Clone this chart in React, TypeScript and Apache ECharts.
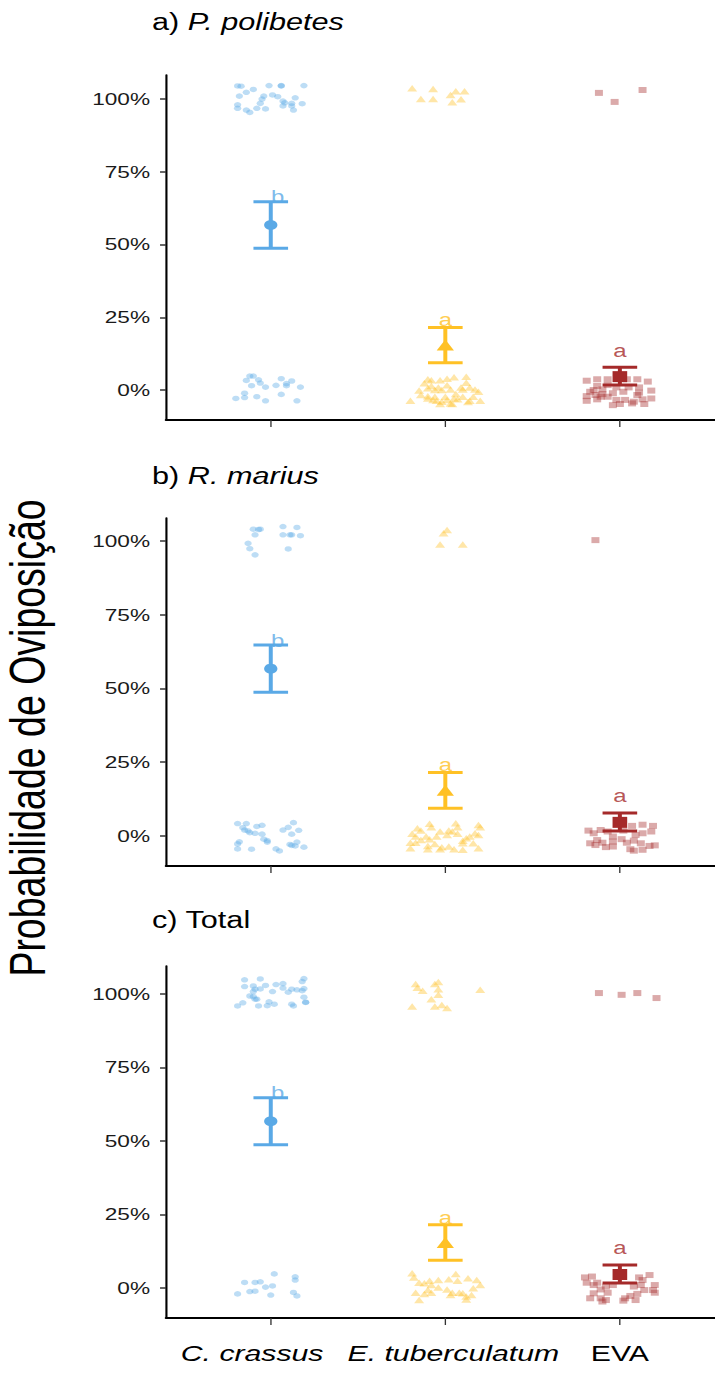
import React, { useEffect, useRef } from 'react';
import * as echarts from 'echarts';

// ---------- data ----------
const categories = ['C. crassus', 'E. tuberculatum', 'EVA'];
const categoryPos = [1, 2, 3];
const yTicks = [0, 25, 50, 75, 100];
const meanVals = [56.7, 15.5, 4.6];
const lowerVals = [48.7, 9.4, 1.7];
const upperVals = [64.7, 21.5, 7.8];
const letters = ['b', 'a', 'a'];
const letterX = [1.04, 2, 3];
const letterY = [66.3, 24.1, 13.6];

// jittered observations: [x position, percent]
const polCC = [
  [0.81, 104.5], [0.83, 104.4], [0.99, 104.6], [1.06, 104.6], [1.06, 104.5], [1.19, 104.6], [0.90, 103.3], [0.86, 102.3],
  [0.82, 101.0], [0.96, 101.0], [0.95, 100.0], [1.01, 101.4], [1.04, 100.8], [1.14, 100.4], [1.07, 99.3], [1.08, 98.7],
  [0.94, 98.5], [0.81, 98.0], [0.81, 96.8], [0.86, 96.2], [0.88, 95.4], [0.92, 96.8], [0.97, 96.6], [1.07, 97.6],
  [1.12, 98.5], [1.12, 97.6], [1.13, 96.2], [1.18, 98.4],
  [0.88, 4.8], [0.90, 4.8], [0.86, 3.3], [0.93, 3.5], [0.94, 2.4], [0.89, 1.5], [0.97, 1.0], [1.06, 3.9], [1.12, 3.1],
  [1.09, 2.2], [1.09, 1.5], [1.03, 1.6], [1.17, 1.0], [0.85, -1.1], [0.80, -2.9], [0.85, -2.6], [0.92, -2.3], [0.97, -3.7],
  [1.06, -1.5], [1.15, -3.7],
];
const polET = [
  [1.81, 103.7], [1.93, 103.4], [1.86, 100.0], [1.93, 100.0], [2.03, 101.4], [2.06, 102.7], [2.11, 102.7], [2.04, 98.9], [2.09, 99.9],
  [1.90, 3.7], [1.92, 3.4], [1.97, 3.4], [2.01, 3.9], [2.05, 4.4], [2.12, 4.6], [1.88, 2.3], [1.92, 1.4], [1.96, 0.9], [2.01, 1.6],
  [2.09, 0.9], [2.12, 2.5], [2.14, 0.9], [2.19, -0.6], [1.85, -0.2], [1.90, 0.6], [1.94, 0], [1.98, 0], [2.03, 0.2], [2.10, 0.2],
  [2.17, 0.2], [1.80, -3.7], [1.90, -2.9], [1.93, -3.4], [1.95, -3.7], [1.98, -4.0], [2.01, -3.4], [2.05, -2.9], [2.03, -4.6],
  [2.07, -3.2], [2.14, -3.7], [2.20, -3.7], [1.97, -4.8], [2.04, -4.8], [2.13, -4.1], [1.90, -2.1], [1.86, -1.7], [2.00, -2.3],
  [1.94, -2.3], [2.16, -2.3], [2.06, -1.4], [2.10, -2.3],
];
const polEVA = [
  [2.88, 102.1], [2.97, 99.0], [3.13, 103.1],
  [2.81, 3.2], [2.87, 3.7], [2.93, 3.7], [3.04, 3.7], [3.10, 3.7], [3.16, 2.9], [2.87, 1.4], [2.93, 1.7], [2.85, 0], [2.90, 0.2],
  [2.98, 0.9], [3.05, 0.9], [3.11, 0.9], [3.18, -0.2], [2.81, -2.1], [2.86, -1.7], [2.90, -1.4], [2.96, -1.1], [3.02, -0.6],
  [3.10, -1.7], [2.81, -3.7], [2.87, -3.2], [2.93, -2.3], [2.98, -3.4], [3.03, -3.4], [3.08, -4.0], [3.13, -3.2], [3.18, -2.9],
  [2.96, -5.2], [3.00, -4.8], [3.07, -4.6], [3.14, -4.8], [2.83, -0.6], [2.89, -2.3], [3.11, -0.9],
];
const marCC = [
  [0.90, 104.0], [0.94, 104.0], [0.93, 103.9], [0.91, 102.1], [1.07, 104.9], [1.15, 104.6], [1.07, 102.1], [1.11, 102.1],
  [1.12, 102.1], [1.17, 101.8], [0.87, 99.2], [0.88, 97.4], [0.91, 95.3], [1.10, 97.3],
  [0.81, 4.2], [0.86, 4.2], [0.84, 2.8], [0.85, 2.0], [0.88, 1.1], [0.87, 1.7], [0.92, 3.2], [0.95, 3.6], [0.91, 0.9], [0.95, 0.6],
  [0.96, -1.1], [0.98, -1.6], [0.98, -2.1], [1.07, 2.0], [1.10, 2.9], [1.13, 4.5], [1.16, 1.9], [1.12, 0.6], [0.82, -2.0],
  [0.81, -2.7], [0.81, -4.4], [0.89, -4.5], [1.03, -4.4], [1.05, -5.1], [1.11, -2.9], [1.12, -3.2], [1.14, -3.4], [1.15, -2.1],
  [1.19, -3.8],
];
const marET = [
  [2.01, 103.7], [1.99, 102.6], [1.97, 98.8], [2.10, 98.8],
  [1.84, 2.6], [1.86, 1.8], [1.91, 4.1], [1.92, 2.9], [1.97, 1.5], [2.02, 1.8], [2.06, 4.3], [2.07, 2.9], [2.04, 1.5], [2.19, 3.7],
  [2.20, 2.9], [1.81, 0.7], [1.83, -0.2], [1.89, -0.2], [1.91, -1.1], [2.01, 0.3], [2.07, 0.7], [2.12, -0.8], [2.17, 0.9],
  [2.19, 0.3], [1.80, -2.3], [1.83, -2.3], [1.90, -3.4], [1.94, -2.7], [1.98, -3.8], [2.02, -3.6], [2.10, -2.5], [2.16, -2.5],
  [1.80, -4.2], [1.90, -4.5], [1.97, -4.5], [2.05, -4.5], [2.10, -4.7], [2.19, -4.2], [2.10, -1.6], [2.14, -0.2], [1.95, -0.2],
  [1.86, -1.4],
];
const marEVA = [
  [2.86, 100.3],
  [2.82, 1.8], [2.85, 0.9], [2.89, 2.0], [2.93, 1.5], [2.96, -0.2], [3.02, 1.8], [3.07, 3.4], [3.13, 3.8], [3.19, 3.4], [3.18, 1.5],
  [3.13, 0.9], [3.09, 0.3], [2.83, -2.5], [2.87, -1.4], [2.90, -2.3], [2.96, -1.9], [3.04, -2.3], [3.08, -1.6], [3.12, -2.5],
  [3.17, -3.4], [3.20, -3.2], [2.92, -3.8], [2.96, -3.6], [3.06, -4.5], [3.08, -5.0], [3.13, -4.7], [2.86, -3.1], [3.01, -1.1],
];
const totCC = [
  [0.85, 104.8], [0.94, 105.1], [1.19, 105.2], [1.18, 104.2], [0.85, 102.5], [0.90, 102.7], [0.97, 102.9], [1.03, 103.2],
  [1.07, 103.5], [0.91, 101.6], [0.94, 101.7], [1.07, 102.0], [1.12, 101.6], [1.15, 101.4], [1.19, 101.8], [0.90, 100.8],
  [1.01, 100.8], [1.10, 100.6], [1.18, 101.1], [0.88, 99.3], [0.90, 99.1], [0.92, 98.2], [0.91, 98.2], [1.19, 98.9],
  [1.20, 97.2], [0.84, 97.0], [0.81, 95.9], [0.93, 95.9], [0.98, 96.0], [1.02, 96.5], [0.99, 97.3], [1.12, 96.5],
  [1.13, 95.9], [1.20, 97.1],
  [1.02, 4.8], [1.14, 3.8], [1.14, 2.7], [0.85, 1.9], [0.91, 1.9], [0.94, 2.1], [1.01, 0.7], [0.97, 0.3], [0.88, -1.2],
  [0.91, -1.1], [0.81, -2.0], [1.00, -2.4], [1.13, -1.5], [1.15, -2.7],
];
const totET = [
  [1.83, 103.4], [1.84, 102.1], [1.87, 101.1], [1.94, 103.4], [1.96, 104.1], [1.96, 101.6], [1.96, 99.7], [1.92, 98.2],
  [1.81, 95.7], [1.94, 95.7], [1.98, 96.2], [2.01, 95.2], [2.20, 101.4],
  [1.81, 5.0], [1.82, 3.6], [1.85, 1.8], [1.88, 1.6], [1.91, 2.5], [1.92, 1.0], [1.96, 2.7], [1.96, 0.2], [1.90, -0.7],
  [1.92, -1.6], [1.88, -2.0], [1.83, -1.6], [1.85, -4.1], [2.02, 3.0], [2.06, 4.8], [2.07, 2.5], [2.13, 3.3], [2.18, 2.7],
  [2.20, 1.0], [2.16, -0.1], [2.01, -0.5], [2.04, -1.6], [2.03, -2.4], [2.08, -1.6], [2.10, -1.8], [2.12, -2.9], [2.15, -2.4],
  [2.12, -3.9],
];
const totEVA = [
  [2.88, 100.3], [3.01, 99.7], [3.10, 100.3], [3.21, 98.6],
  [2.80, 3.6], [2.84, 3.9], [2.81, 1.8], [2.85, 1.0], [2.89, -0.5], [2.92, 0.5], [2.93, -1.6], [2.96, 1.0], [2.85, -1.8],
  [2.83, -3.5], [2.89, -3.5], [2.92, -4.1], [2.90, -4.6], [3.03, -3.5], [3.02, -4.3], [3.06, -2.7], [3.10, -2.0], [3.08, 0.5],
  [3.12, 1.0], [3.11, 3.6], [3.17, 4.4], [3.13, 2.7], [3.14, -0.7], [3.20, 1.0], [3.20, -1.6], [3.19, -0.7], [3.09, -4.1],
  [2.87, 1.8],
];

// ---------- layout / style ----------
const CHART_W = 537;
const CHART_H = 1373;
const STRETCH = 715 / CHART_W;
const FONT = '"Liberation Sans", Arial, Helvetica, sans-serif';
const colors = ['#5AA9E6', '#FFC125', '#A52A2A'];
const pointSymbols = ['circle', 'triangle', 'rect'];
const pointSizes: any[] = [5.5, [7.5, 6.5], 6];
const meanSizes: any[] = [10, [13, 11], 11];
const labelStyles = ['c', 'e', 'v'];

const panels = [
  { pre: 'a) ', it: 'P. polibetes', titleY: 22, top: 75, height: 345, yMin: -10.3, yMax: 108.25, groups: [polCC, polET, polEVA] },
  { pre: 'b) ', it: 'R. marius', titleY: 476, top: 518, height: 348, yMin: -10.2, yMax: 107.8, groups: [marCC, marET, marEVA] },
  { pre: 'c) Total', it: '', titleY: 920, top: 966, height: 352, yMin: -10.2, yMax: 109.5, groups: [totCC, totET, totEVA] },
];

export default function App() {
  const ref = useRef<HTMLDivElement>(null);
  useEffect(() => {
    document.body.style.margin = '0';
    if (!ref.current) return;
    const chart = echarts.init(ref.current, null, { renderer: 'svg' });

    const grid: any[] = [];
    const xAxis: any[] = [];
    const yAxis: any[] = [];
    const series: any[] = [];
    const graphic: any[] = [];

    panels.forEach((p, i) => {
      grid.push({ left: 124.7, right: 0, top: p.top, height: p.height });
      const last = i === panels.length - 1;
      xAxis.push({
        type: 'value', gridIndex: i, min: 0.4, max: 3.545,
        splitLine: { show: false },
        axisLine: { show: true, onZero: false, lineStyle: { color: '#000', width: 2 } },
        axisTick: { show: true, customValues: categoryPos, length: 7, lineStyle: { color: '#333', width: 1 } },
        axisLabel: {
          show: last, customValues: categoryPos, margin: 24,
          formatter: (v: number) => {
            const idx = categoryPos.indexOf(Math.round(v));
            if (idx < 0) return '';
            return '{' + labelStyles[idx] + '|' + categories[idx] + '}';
          },
          rich: {
            c: { fontStyle: 'italic', fontSize: 22.7, fontFamily: FONT, color: '#000', padding: [0, 28, 0, 0] },
            e: { fontStyle: 'italic', fontSize: 22.7, fontFamily: FONT, color: '#000', padding: [0, 0, 0, 12] },
            v: { fontSize: 22.7, fontFamily: FONT, color: '#000' },
          },
        },
      });
      yAxis.push({
        type: 'value', gridIndex: i, min: p.yMin, max: p.yMax,
        splitLine: { show: false },
        axisLine: { show: true, onZero: false, lineStyle: { color: '#000', width: 1.6 } },
        axisTick: { show: true, customValues: yTicks, length: 4.5, lineStyle: { color: '#333', width: 1.5 } },
        axisLabel: {
          show: true, customValues: yTicks, margin: 12,
          formatter: (v: number) => v + '%',
          fontSize: 17, fontFamily: FONT, color: '#1a1a1a',
        },
      });

      p.groups.forEach((g, gi) => {
        series.push({
          type: 'scatter', xAxisIndex: i, yAxisIndex: i,
          symbol: pointSymbols[gi], symbolSize: pointSizes[gi],
          itemStyle: { color: colors[gi], opacity: 0.4 },
          data: g, z: 2, silent: true,
        });
      });

      series.push({
        type: 'custom', xAxisIndex: i, yAxisIndex: i, z: 3,
        encode: { x: 0, y: [1, 2] },
        data: categoryPos.map((x, k) => [x, lowerVals[k], upperVals[k]]),
        renderItem: (params: any, api: any) => {
          const x = api.value(0);
          const lo = api.coord([x, api.value(1)]);
          const hi = api.coord([x, api.value(2)]);
          const c = colors[params.dataIndex];
          const hw = 13;
          const st = { stroke: c, lineWidth: 3 };
          return {
            type: 'group',
            children: [
              { type: 'line', shape: { x1: lo[0], y1: lo[1], x2: hi[0], y2: hi[1] }, style: st },
              { type: 'line', shape: { x1: lo[0] - hw, y1: lo[1], x2: lo[0] + hw, y2: lo[1] }, style: st },
              { type: 'line', shape: { x1: hi[0] - hw, y1: hi[1], x2: hi[0] + hw, y2: hi[1] }, style: st },
            ],
          };
        },
      });

      series.push({
        type: 'scatter', xAxisIndex: i, yAxisIndex: i, z: 4,
        data: categoryPos.map((x, k) => ({
          value: [x, meanVals[k]],
          symbol: pointSymbols[k],
          symbolSize: meanSizes[k],
          itemStyle: { color: colors[k], opacity: 1 },
        })),
      });

      series.push({
        type: 'scatter', xAxisIndex: i, yAxisIndex: i, z: 5,
        symbolSize: 1,
        itemStyle: { color: 'rgba(0,0,0,0)' },
        label: {
          show: true, position: 'inside',
          formatter: (prm: any) => prm.value[2],
          fontSize: 18, fontFamily: FONT,
        },
        data: letterX.map((x, k) => ({
          value: [x, letterY[k], letters[k]],
          label: { color: colors[k] },
        })),
      });

      graphic.push({
        type: 'text', x: 114.2, y: p.titleY,
        style: {
          text: p.it ? p.pre + '{i|' + p.it + '}' : p.pre,
          fontSize: 23, fontFamily: FONT, fill: '#000', verticalAlign: 'middle',
          rich: { i: { fontStyle: 'italic', fontSize: 23, fontFamily: FONT, fill: '#000' } },
        },
      });
    });

    graphic.push({
      type: 'text', x: 21, y: 738, rotation: Math.PI / 2,
      style: {
        text: 'Probabilidade de Oviposição',
        fontSize: 37.5, fontFamily: FONT, fill: '#000', align: 'center', verticalAlign: 'middle',
      },
    });

    chart.setOption({
      animation: false,
      backgroundColor: '#fff',
      grid, xAxis, yAxis, series, graphic,
    });
    return () => chart.dispose();
  }, []);

  return (
    <div style={{ width: 715, height: CHART_H, overflow: 'hidden', background: '#fff' }}>
      <div
        ref={ref}
        style={{
          width: CHART_W, height: CHART_H,
          transform: `scaleX(${STRETCH})`, transformOrigin: '0 0',
        }}
      />
    </div>
  );
}
